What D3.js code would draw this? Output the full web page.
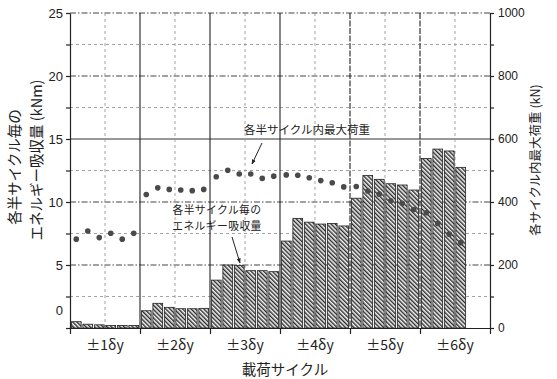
<!DOCTYPE html>
<html><head><meta charset="utf-8">
<script src="https://cdn.jsdelivr.net/npm/d3@7"></script>
<style>body{margin:0;background:#fff}svg{display:block}</style>
</head><body>
<svg id="c" width="557" height="379"></svg>
<script>
// ---- data ----
const groups = ["±1δy","±2δy","±3δy","±4δy","±5δy","±6δy"];
const halfCycles = [0,1,2,3,4,5];
// energy absorbed per half cycle (kNm)
const energy1 = [0.5, 0.3, 0.25, 0.2, 0.2, 0.2];
const energy2 = [1.37, 1.96, 1.64, 1.53, 1.53, 1.56];
const energy3 = [3.8, 5.0, 4.95, 4.55, 4.55, 4.47];
const energy4 = [6.9, 8.7, 8.4, 8.25, 8.3, 8.1];
const energy5 = [10.3, 12.1, 11.8, 11.45, 11.35, 10.95];
const energy6 = [13.45, 14.2, 14.05, 12.75];
// max load per half cycle (kN)
const load1 = [282, 308, 287, 301, 282, 301];
const load2 = [424, 445, 440, 438, 436, 440];
const load3 = [480, 501, 489, 489, 475, 482];
const load4 = [486, 485, 477, 468, 461, 448];
const load5 = [449, 435, 425, 404, 396, 376];
const load6 = [366, 332, 298, 271];
const leftTicks = [0, 2.5, 5, 7.5, 10, 12.5, 15, 17.5, 20, 22.5, 25];
const rightTicks = [0,100,200,300,400,500,600,700,800,900,1000];

const energy = [energy1, energy2, energy3, energy4, energy5, energy6];
const loads = [load1, load2, load3, load4, load5, load6];
const barData = [], dotData = [];
groups.forEach((g, gi) => {
  energy[gi].forEach((v, i) => barData.push({g, i, v}));
  loads[gi].forEach((v, i) => dotData.push({g, i, v}));
});

const svg = d3.select("#c");
const L = 70, R = 490, T = 13, B = 328;
const ink = "#222";
const jp = "'Noto Sans CJK JP', 'Noto Sans', sans-serif";
const num = "'Liberation Sans', Arial, sans-serif";

const x0 = d3.scaleBand().domain(groups).range([L, R]);
const x1 = d3.scaleBand().domain(halfCycles).range([0, x0.bandwidth()])
  .paddingInner(0.15).paddingOuter(0.12);
const yL = d3.scaleLinear().domain([0, 25]).range([B, T]);
const yR = d3.scaleLinear().domain([0, 1000]).range([B, T]);

const defs = svg.append("defs");
const pat = defs.append("pattern").attr("id", "hatch")
  .attr("patternUnits", "userSpaceOnUse").attr("width", 3).attr("height", 3)
  .attr("patternTransform", "rotate(-45)");
pat.append("rect").attr("width", 3).attr("height", 3).attr("fill", "#f4f4f4");
pat.append("line").attr("x1", 0.7).attr("y1", 0).attr("x2", 0.7).attr("y2", 3)
  .attr("stroke", "#2a2a2a").attr("stroke-width", 1.4);
defs.append("marker").attr("id", "arr").attr("viewBox", "0 0 10 10")
  .attr("refX", 9).attr("refY", 5).attr("markerWidth", 5).attr("markerHeight", 5)
  .attr("orient", "auto")
  .append("path").attr("d", "M0,1L10,5L0,9z").attr("fill", ink);

// ---- grid ----
const grid = svg.append("g");
leftTicks.filter(v => v > 0).forEach(v => {
  const major = v % 5 === 0;
  grid.append("line").attr("x1", L).attr("x2", R).attr("y1", yL(v)).attr("y2", yL(v))
    .attr("stroke", v === 15 ? "#333" : (major ? "#444" : "#9a9a9a"))
    .attr("stroke-width", major ? 1 : 0.9)
    .attr("stroke-dasharray", v === 15 ? null : (major ? "6,2,1.5,2" : "3,3"));
});
groups.forEach((g, gi) => {
  const xc = x0(g) + x0.bandwidth() / 2;
  grid.append("line").attr("x1", xc).attr("x2", xc).attr("y1", T).attr("y2", B)
    .attr("stroke", "#999").attr("stroke-width", 0.9).attr("stroke-dasharray", "3,3");
  if (gi > 0) {
    const xb = x0(g);
    grid.append("line").attr("x1", xb).attr("x2", xb).attr("y1", T).attr("y2", B)
      .attr("stroke", "#222").attr("stroke-width", 1.1)
      .attr("stroke-dasharray", gi >= 4 ? "6,1.5" : null);
  }
});

// ---- bars ----
svg.append("g").selectAll("rect").data(barData).join("rect")
  .attr("x", d => x0(d.g) + x1(d.i))
  .attr("width", x1.bandwidth())
  .attr("y", d => yL(d.v))
  .attr("height", d => yL(0) - yL(d.v))
  .attr("fill", "url(#hatch)")
  .attr("stroke", "#222").attr("stroke-width", 0.8);

// ---- dots ----
svg.append("g").selectAll("circle").data(dotData).join("circle")
  .attr("cx", d => x0(d.g) + x1(d.i) + x1.bandwidth() / 2)
  .attr("cy", d => yR(d.v))
  .attr("r", 2.8)
  .attr("fill", "#4a4a4a");

// ---- axes ----
const axL = svg.append("g").attr("transform", `translate(${L},0)`)
  .call(d3.axisLeft(yL).tickValues(leftTicks).tickSize(4).tickSizeOuter(0)
    .tickFormat(v => v % 5 === 0 ? d3.format("d")(v) : ""));
axL.selectAll("text").attr("font-family", num).attr("font-size", 13).attr("fill", ink)
  .attr("x", -7)
  .attr("dy", v => v === 0 ? "-1.05em" : "0.32em");
axL.selectAll("line,path").attr("stroke", ink).attr("stroke-width", 1.2);

const axR = svg.append("g").attr("transform", `translate(${R},0)`)
  .call(d3.axisRight(yR).tickValues(rightTicks).tickSize(4).tickSizeOuter(0)
    .tickFormat(v => v % 200 === 0 ? d3.format("d")(v) : ""));
axR.selectAll("text").attr("font-family", num).attr("font-size", 12).attr("fill", ink).attr("x", 8);
axR.selectAll("line,path").attr("stroke", ink).attr("stroke-width", 1.2);

const boundaries = groups.map(g => x0(g)).concat([R]);
const xs = d3.scaleLinear().domain([L, R]).range([L, R]);
const axB = svg.append("g").attr("transform", `translate(0,${B})`)
  .call(d3.axisBottom(xs).tickValues(boundaries).tickSize(6).tickSizeOuter(0).tickFormat(""));
axB.selectAll("line,path").attr("stroke", ink).attr("stroke-width", 1.2);

// group labels
svg.append("g").selectAll("text").data(groups).join("text")
  .attr("x", g => x0(g) + x0.bandwidth() / 2).attr("y", 350)
  .attr("text-anchor", "middle").attr("font-family", jp).attr("font-size", 14)
  .attr("fill", ink).text(g => g);

// axis titles
svg.append("text").attr("x", 285).attr("y", 375).attr("text-anchor", "middle")
  .attr("font-family", jp).attr("font-size", 14.5).attr("fill", ink).text("載荷サイクル");
svg.append("text").attr("transform", "translate(20,167) rotate(-90)")
  .attr("text-anchor", "middle").attr("font-family", jp).attr("font-size", 14.5)
  .attr("fill", ink).text("各半サイクル毎の");
svg.append("text").attr("transform", "translate(42,160) rotate(-90)")
  .attr("text-anchor", "middle").attr("font-family", jp).attr("font-size", 14.5)
  .attr("fill", ink).text("エネルギー吸収量 (kNm)");
svg.append("text").attr("transform", "translate(540,160) rotate(-90)")
  .attr("text-anchor", "middle").attr("font-family", jp).attr("font-size", 12.5)
  .attr("fill", ink).text("各サイクル内最大荷重 (kN)");

// annotations
svg.append("text").attr("x", 307).attr("y", 134).attr("text-anchor", "middle")
  .attr("font-family", jp).attr("font-size", 11.5).attr("fill", ink).text("各半サイクル内最大荷重");
svg.append("line").attr("x1", 262).attr("y1", 143).attr("x2", 252).attr("y2", 164)
  .attr("stroke", ink).attr("stroke-width", 1).attr("marker-end", "url(#arr)");
svg.append("text").attr("x", 217).attr("y", 214).attr("text-anchor", "middle")
  .attr("font-family", jp).attr("font-size", 10.8).attr("letter-spacing", 0.4)
  .attr("fill", ink).text("各半サイクル毎の");
svg.append("text").attr("x", 217).attr("y", 230).attr("text-anchor", "middle")
  .attr("font-family", jp).attr("font-size", 10.8).attr("letter-spacing", 0.4)
  .attr("fill", ink).text("エネルギー吸収量");
svg.append("line").attr("x1", 232).attr("y1", 237).attr("x2", 240).attr("y2", 263)
  .attr("stroke", ink).attr("stroke-width", 1).attr("marker-end", "url(#arr)");
</script>
</body></html>
